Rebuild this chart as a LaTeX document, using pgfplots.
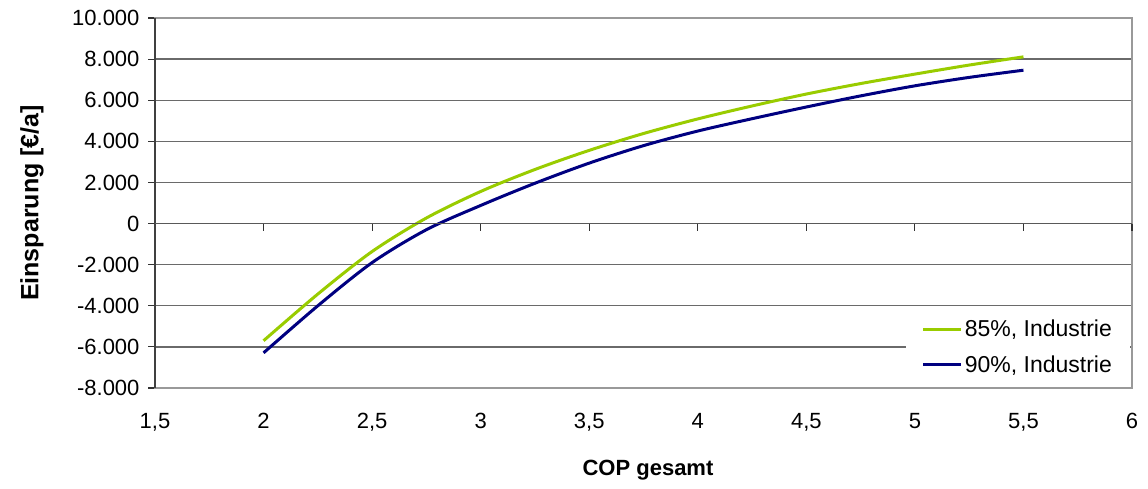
\documentclass[border=0pt]{standalone}
\usepackage{fontspec}
\setmainfont{Liberation Sans}
\usepackage{pgfplots}
\pgfplotsset{compat=1.18}
\definecolor{cgreen}{HTML}{99CC00}
\definecolor{cnavy}{HTML}{000080}
\definecolor{gridc}{HTML}{6A6A6A}
\definecolor{framec}{HTML}{999999}
\begin{document}
\begin{tikzpicture}[x=1pt,y=1pt]
\useasboundingbox (0,0) rectangle (1148,489);
\begin{axis}[
  at={(155pt,101pt)}, anchor=south west,
  scale only axis, width=977pt, height=370pt,
  xmin=1.5, xmax=6, ymin=-8000, ymax=10000,
  scaled y ticks=false, scaled x ticks=false,
  xtick={1.5,2,2.5,3,3.5,4,4.5,5,5.5,6},
  xticklabels={{1,5},2,{2,5},3,{3,5},4,{4,5},5,{5,5},6},
  ytick={-8000,-6000,-4000,-2000,0,2000,4000,6000,8000,10000},
  yticklabels={-8.000,-6.000,-4.000,-2.000,0,2.000,4.000,6.000,8.000,10.000},
  x tick style={draw=none},
  y tick style={draw=black!80, line width=1.2pt},
  major tick length=7pt,
  tick align=outside,
  ytick pos=left,
  xtick pos=bottom,
  ymajorgrids,
  major grid style={draw=gridc, line width=1.3pt},
  axis line style={draw=framec, line width=1.5pt},
  tick label style={font=\fontsize{22}{26}\selectfont},
  xticklabel style={yshift=-15pt},
  yticklabel style={xshift=-5pt},
  xlabel={\bfseries COP gesamt},
  ylabel={\bfseries Einsparung [€/a]},
  xlabel style={font=\fontsize{22}{26}\selectfont, at={(axis description cs:0.5046,-0.2216)}, anchor=center},
  ylabel style={font=\fontsize{25}{30}\selectfont, at={(axis description cs:-0.1259,0.5)}, anchor=center, rotate=0},
  legend style={at={(rel axis cs:0.998,0.006)}, anchor=south east,
    draw=none, fill=white, font=\fontsize{23}{27}\selectfont,
    inner xsep=16pt, inner ysep=10pt, row sep=13pt},
  legend cell align=left,
  legend image code/.code={\draw[#1] (-2pt,0pt) -- (36pt,0pt);},
  clip=false,
]
\addplot[cgreen, line width=3pt, smooth, tension=0.5] coordinates {
(2.0,-5700) (2.25,-3430) (2.5,-1360) (2.75,270) (3.0,1560) (3.25,2630)
(3.5,3560) (3.75,4380) (4.0,5090) (4.25,5720) (4.5,6300) (4.75,6810)
(5.0,7270) (5.25,7710) (5.5,8110)};
\addlegendentry{85\%, Industrie}
\addplot[cnavy, line width=3pt, smooth, tension=0.5] coordinates {
(2.0,-6290) (2.25,-4000) (2.5,-1900) (2.75,-300) (3.0,880) (3.25,1960)
(3.5,2940) (3.75,3790) (4.0,4500) (4.25,5100) (4.5,5670) (4.75,6210)
(5.0,6700) (5.25,7110) (5.5,7460)};
\addlegendentry{90\%, Industrie}
\draw[black!75, line width=1.5pt] (rel axis cs:0,0) -- (rel axis cs:0,1);
\draw[black!65, line width=1.5pt] (axis cs:1.5,0) -- (axis cs:6,0);
\pgfplotsinvokeforeach{2,2.5,3,3.5,4,4.5,5,5.5,6}{
  \draw[black!80, line width=1.2pt] (axis cs:#1,0) -- ++(0pt,-7pt);
}
\end{axis}
\end{tikzpicture}
\end{document}
